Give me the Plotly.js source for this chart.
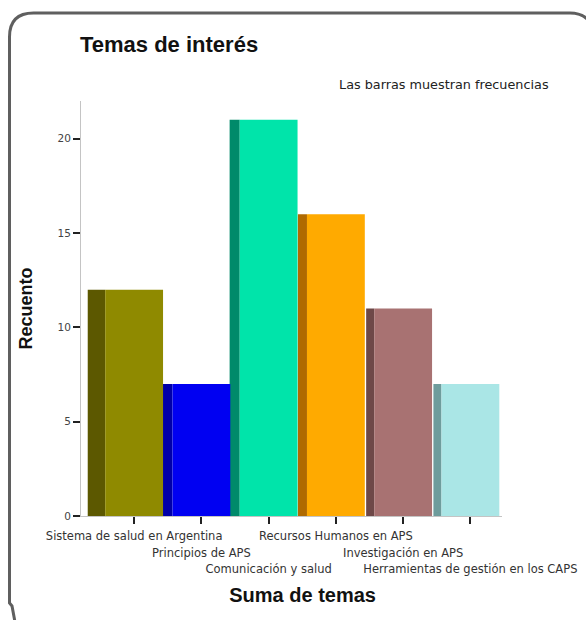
<!DOCTYPE html>
<html>
<head>
<meta charset="utf-8">
<script src="https://cdn.plot.ly/plotly-3.0.1.min.js"></script>
<style>
  html, body { margin: 0; padding: 0; background: #fff; }
  #chart { width: 586px; height: 620px; }
</style>
</head>
<body>
<div id="chart"></div>
<script>
// ---- data ----
const categories = [
  "Sistema de salud en Argentina",
  "Principios de APS",
  "Comunicación y salud",
  "Recursos Humanos en APS",
  "Investigación en APS",
  "Herramientas de gestión en los CAPS"
];
const counts = [12, 7, 21, 16, 11, 7];
const yTickVals = [0, 5, 10, 15, 20];
const yTickText = ["0", "5", "10", "15", "20"];

// ---- style ----
const frontColors = ["#8f8a00", "#0000f2", "#00e4aa", "#ffaa00", "#a87272", "#aae6e6"];
const sideColors  = ["#5c5800", "#0000a8", "#008a6a", "#b06a00", "#6e4848", "#6e9c9c"];
const frontWidth = 0.86;
const sideWidths = [0.26, 0.19, 0.15, 0.135, 0.12, 0.12];

const W = 586, H = 620;
const margin = { l: 81, r: 84, t: 101, b: 104 };
const xRange = [-0.79, 5.47];
const yRange = [0, 22];
const labelFont = "DejaVu Sans, Verdana, sans-serif";

const xs = categories.map((c, i) => i);
// stagger labels into three rows
const tickText = categories.map((c, i) => {
  const row = i % 3;
  return "<br>".repeat(row) + '<span style="font-size:11.5px">' + c + "</span>";
});

const sideTrace = {
  type: "bar",
  x: xs,
  y: counts,
  width: sideWidths,
  offset: sideWidths.map(w => -frontWidth / 2 - w),
  marker: { color: sideColors, line: { width: 0 } },
  hoverinfo: "skip",
  showlegend: false
};
const frontTrace = {
  type: "bar",
  x: xs,
  y: counts,
  width: frontWidth,
  offset: -frontWidth / 2,
  marker: { color: frontColors, line: { width: 0 } },
  hoverinfo: "skip",
  showlegend: false
};

// frame (rounded rectangle), drawn in paper coordinates converted from pixels
const pw = W - margin.l - margin.r, ph = H - margin.t - margin.b;
const px = x => (x - margin.l) / pw;
const py = y => 1 - (y - margin.t) / ph;
const r = 24;
const framePath =
  `M ${px(15)},${py(622)} L ${px(12)},${py(606)} L ${px(9.5)},${py(603)} ` +
  `L ${px(9.5)},${py(13 + r)} Q ${px(9.5)},${py(13)} ${px(9.5 + r)},${py(13)} ` +
  `L ${px(570)},${py(13)} Q ${px(583)},${py(13)} ${px(590)},${py(22)}`;

const layout = {
  width: W,
  height: H,
  margin: margin,
  paper_bgcolor: "#ffffff",
  plot_bgcolor: "#ffffff",
  barmode: "overlay",
  font: { family: "Liberation Sans, Arial, sans-serif", color: "#333" },
  title: {
    text: "<b>Temas de interés</b>",
    font: { size: 22, color: "#111", family: "Liberation Sans, Arial, sans-serif" },
    x: 80 / W, xanchor: "left",
    y: 1 - 44 / H, yanchor: "middle"
  },
  xaxis: {
    range: xRange,
    tickmode: "array",
    tickvals: xs,
    ticktext: tickText,
    tickangle: 0,
    ticks: "outside",
    ticklen: 7,
    tickwidth: 2,
    tickcolor: "#222",
    tickfont: { size: 13, color: "#333", family: labelFont },
    showline: true,
    linecolor: "#c4c4c4",
    linewidth: 1,
    showgrid: false,
    zeroline: false,
    automargin: false,
    title: {
      text: "&nbsp;&nbsp;&nbsp;&nbsp;<b>Suma de temas</b>",
      font: { size: 20, color: "#111", family: "Liberation Sans, Arial, sans-serif" },
      standoff: 12
    }
  },
  yaxis: {
    range: yRange,
    tickmode: "array",
    tickvals: yTickVals,
    ticktext: yTickText,
    ticks: "outside",
    ticklen: 7,
    tickwidth: 2,
    tickcolor: "#222",
    tickfont: { size: 10.5, color: "#444", family: labelFont },
    showline: true,
    linecolor: "#c4c4c4",
    linewidth: 1,
    showgrid: false,
    zeroline: false,
    automargin: false,
    title: {
      text: "<b>Recuento</b>",
      font: { size: 18, color: "#111", family: "Liberation Sans, Arial, sans-serif" },
      standoff: 20
    }
  },
  annotations: [{
    text: "Las barras muestran frecuencias",
    xref: "paper", yref: "paper",
    x: px(551), y: py(85),
    xanchor: "right", yanchor: "middle",
    showarrow: false,
    font: { size: 12.8, color: "#222", family: labelFont }
  }],
  shapes: [{
    type: "path",
    xref: "paper", yref: "paper",
    path: framePath,
    line: { color: "#5f5f5f", width: 3 },
    layer: "above"
  }]
};

Plotly.newPlot("chart", [sideTrace, frontTrace], layout, { staticPlot: true, displayModeBar: false });
</script>
</body>
</html>
